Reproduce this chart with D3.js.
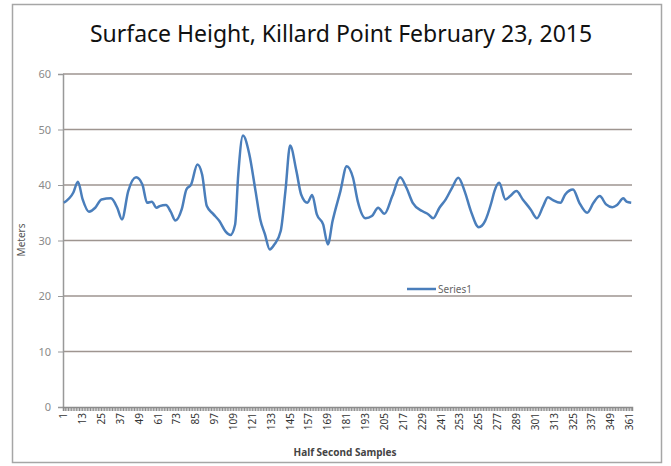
<!DOCTYPE html>
<html>
<head>
<meta charset="utf-8">
<script src="https://cdn.jsdelivr.net/npm/d3@7"></script>
<style>
body { margin: 0; background: #fff; }
svg { display: block; font-family: "Noto Sans", "DejaVu Sans", sans-serif; }
</style>
</head>
<body>
<svg id="chart" width="671" height="466"></svg>
<script>
// sample number (half second) and surface height
var sampleNo = [1,7,10,13,17,21,25,31,35,38,42,47,51,54,57,60,62,66,69,72,
  76,79,82,86,89,92,96,100,104,107,110,112,115,119,123,126,129,132,135,139,
  142,145,149,152,156,159,162,166,169,172,177,181,185,188,193,197,201,205,210,215,
  219,223,229,233,236,240,244,248,252,256,260,265,269,273,275,278,282,285,289,293,
  298,302,306,309,312,317,320,325,329,334,338,342,346,350,353,357,359,362];
var heightM = [36.8,38.6,40.6,37.4,35.2,35.9,37.4,37.6,35.9,33.8,38.9,41.4,40.1,36.8,37.0,35.9,36.2,36.4,35.2,33.6,
  35.6,39.2,40.1,43.7,41.9,36.2,34.8,33.5,31.6,31.0,32.9,41.9,48.9,45.6,38.9,33.8,31.1,28.4,29.3,31.7,
  38.9,47.1,42.5,38.3,36.8,38.2,34.7,32.9,29.3,33.5,38.9,43.4,41.3,37.1,34.0,34.4,35.9,34.8,38.0,41.4,
  39.5,36.8,35.3,34.7,34.0,35.9,37.4,39.5,41.3,38.9,35.3,32.4,33.5,36.8,38.9,40.4,37.4,38.0,38.9,37.4,
  35.6,34.0,36.2,37.8,37.3,36.8,38.3,39.2,36.8,35.0,36.8,38.0,36.5,36.0,36.4,37.6,37.0,36.8];
var nSamples = 362;
var xLabels = [1,13,25,37,49,61,73,85,97,109,121,133,145,157,169,181,193,205,217,229,
  241,253,265,277,289,301,313,325,337,349,361];
var yTicks = [0,10,20,30,40,50,60];

var svg = d3.select("#chart");
var plotLeft = 63, plotRight = 632, plotTop = 74, plotBottom = 407;

// outer frame
svg.append("rect")
   .attr("x", 12.5).attr("y", 4.5)
   .attr("width", 649).attr("height", 458)
   .attr("fill", "#fff")
   .attr("stroke", "#a6a6a6")
   .attr("stroke-width", 1.5);

svg.append("text")
   .attr("x", 341).attr("y", 42)
   .attr("text-anchor", "middle")
   .attr("font-size", "23px")
   .attr("fill", "#111")
   .text("Surface Height, Killard Point February 23, 2015");

var xScale = d3.scaleBand().domain(d3.range(1, nSamples + 1)).range([plotLeft, plotRight]);
var yScale = d3.scaleLinear().domain([0, 60]).range([plotBottom, plotTop]);

// gridlines
svg.append("g").selectAll("line")
   .data(yTicks.slice(1))
   .enter().append("line")
   .attr("x1", plotLeft).attr("x2", plotRight)
   .attr("y1", function(d) { return yScale(d); })
   .attr("y2", function(d) { return yScale(d); })
   .attr("stroke", "#9e9590")
   .attr("stroke-width", 1.5);

var gy = svg.append("g")
   .attr("transform", "translate(" + plotLeft + ",0)")
   .call(d3.axisLeft(yScale).tickValues(yTicks).tickSize(5).tickFormat(d3.format("d")));
gy.select(".domain").attr("stroke", "#999").attr("stroke-width", 1.5);
gy.selectAll(".tick line").attr("stroke", "#999");
gy.selectAll(".tick text")
  .attr("x", -12)
  .attr("font-size", "11px")
  .attr("font-family", "Noto Sans")
  .attr("fill", "#8a8a8a");

var gx = svg.append("g")
   .attr("transform", "translate(0," + plotBottom + ")")
   .call(d3.axisBottom(xScale)
     .tickValues(xScale.domain())
     .tickSize(4)
     .tickFormat(function(d) { return xLabels.indexOf(d) >= 0 ? d : ""; }));
gx.select(".domain").attr("stroke", "#8c8c8c").attr("stroke-width", 1.5);
gx.selectAll(".tick line").attr("stroke", "#8c8c8c");
gx.selectAll(".tick text")
  .attr("transform", "rotate(-90)")
  .attr("text-anchor", "end")
  .attr("x", -6).attr("y", 0).attr("dy", "0.35em")
  .attr("font-size", "10px")
  .attr("font-family", "Noto Sans")
  .attr("fill", "#333");

// axis titles
svg.append("text")
   .attr("transform", "translate(25,240) rotate(-90)")
   .attr("text-anchor", "middle")
   .attr("font-size", "10px")
   .attr("fill", "#555")
   .text("Meters");

svg.append("text")
   .attr("x", 345).attr("y", 456)
   .attr("text-anchor", "middle")
   .attr("font-size", "10px")
   .attr("font-weight", "bold")
   .attr("fill", "#444")
   .text("Half Second Samples");

// series
var line = d3.line()
   .x(function(d, i) { return xScale(sampleNo[i]) + xScale.bandwidth() / 2; })
   .y(function(d) { return yScale(d); })
   .curve(d3.curveMonotoneX);

svg.append("path")
   .datum(heightM)
   .attr("d", line)
   .attr("fill", "none")
   .attr("stroke", "#4a7ebb")
   .attr("stroke-width", 2.5)
   .attr("stroke-linejoin", "round");

// legend
var lg = svg.append("g").attr("transform", "translate(407,289)");
lg.append("line")
  .attr("x1", 0).attr("x2", 29).attr("y1", 0).attr("y2", 0)
  .attr("stroke", "#4a7ebb").attr("stroke-width", 2.5);
lg.append("text")
  .attr("x", 31).attr("y", 4)
  .attr("font-size", "10px")
  .attr("fill", "#666")
  .text("Series1");
</script>
</body>
</html>
